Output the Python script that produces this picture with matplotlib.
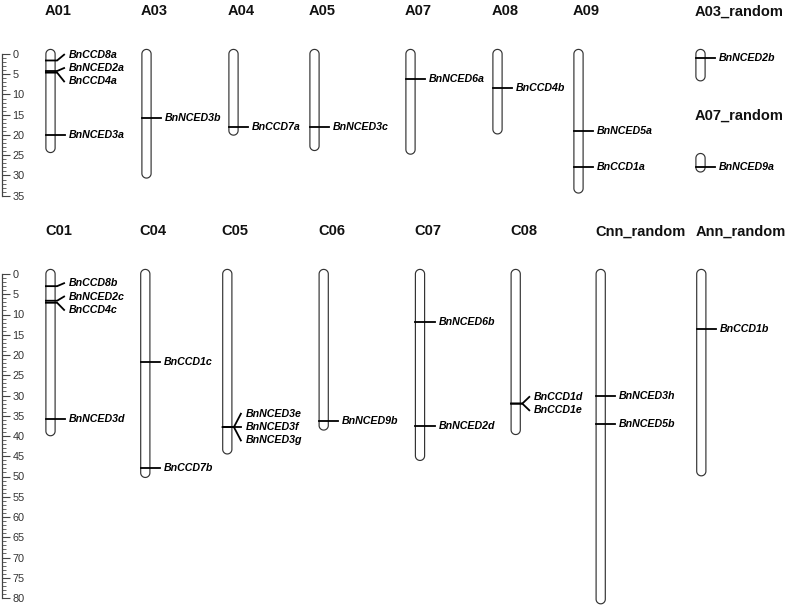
import matplotlib.pyplot as plt
import numpy as np
from matplotlib.ticker import FixedLocator

plt.rcParams['font.family'] = ['Liberation Sans', 'DejaVu Sans']

# ---- top row: A genome ----
top_chroms = ['A01', 'A03', 'A04', 'A05', 'A07', 'A08', 'A09', 'A03_random', 'A07_random']
top_lengths = [23.2, 29.5, 18.9, 22.7, 23.6, 18.6, 33.2, 5.5, 2.3]
top_starts = [0, 0, 0, 0, 0, 0, 0, 0, 25.7]
top_gene_chrom = ['A01', 'A01', 'A01', 'A01', 'A03', 'A04', 'A05', 'A07', 'A08',
                  'A09', 'A09', 'A03_random', 'A07_random']
top_gene_names = ['BnCCD8a', 'BnNCED2a', 'BnCCD4a', 'BnNCED3a', 'BnNCED3b', 'BnCCD7a',
                  'BnNCED3c', 'BnNCED6a', 'BnCCD4b', 'BnNCED5a', 'BnCCD1a', 'BnNCED2b',
                  'BnNCED9a']
top_gene_pos = [1.6, 4.2, 4.6, 20.0, 15.8, 18.1, 18.1, 6.1, 8.4, 19.0, 28.0, 1.1, 2.2]

# ---- bottom row: C genome + unplaced ----
bot_chroms = ['C01', 'C04', 'C05', 'C06', 'C07', 'C08', 'Cnn_random', 'Ann_random']
bot_lengths = [38.8, 49.1, 43.3, 37.4, 44.9, 38.5, 80.3, 48.7]
bot_starts = [0, 0, 0, 0, 0, 0, 0, 0]
bot_gene_chrom = ['C01', 'C01', 'C01', 'C01', 'C04', 'C04', 'C05', 'C05', 'C05', 'C06',
                  'C07', 'C07', 'C08', 'C08', 'Cnn_random', 'Cnn_random', 'Ann_random']
bot_gene_names = ['BnCCD8b', 'BnNCED2c', 'BnCCD4c', 'BnNCED3d', 'BnCCD1c', 'BnCCD7b',
                  'BnNCED3e', 'BnNCED3f', 'BnNCED3g', 'BnNCED9b', 'BnNCED6b', 'BnNCED2d',
                  'BnCCD1d', 'BnCCD1e', 'BnNCED3h', 'BnNCED5b', 'BnCCD1b']
bot_gene_pos = [3.0, 6.6, 7.1, 35.9, 21.7, 47.9, 37.8, 37.8, 37.8, 36.3,
                11.9, 37.6, 32.0, 32.0, 30.2, 37.0, 13.5]

# layout (pixel columns)
top_xpos = [50.5, 146.5, 233.5, 314.5, 410.5, 497.5, 578.5, 700.5, 700.5]
bot_xpos = [50.5, 145.3, 227.3, 323.7, 420.0, 515.7, 600.7, 701.3]

W, H = 789, 605
S = 4.05      # pixels per Mb
R = 4.6       # chromosome half width (px)
SPLIT = 215   # pixel row between panels

fig = plt.figure(figsize=(W / 100, H / 100), dpi=100)


def make_axes(top_px, bot_px, zero_px, ruler_max):
    ax = fig.add_axes([2 / W, 1 - bot_px / H, 1 - 2 / W, (bot_px - top_px) / H])
    ax.set_xlim(2, W)
    ax.set_ylim((bot_px - zero_px) / S, (top_px - zero_px) / S)
    for s in ['top', 'right', 'bottom']:
        ax.spines[s].set_visible(False)
    ax.spines['left'].set_bounds(0, ruler_max)
    ax.spines['left'].set_color('#444444')
    ax.spines['left'].set_linewidth(0.9)
    ax.set_xticks([])
    ax.yaxis.set_major_locator(FixedLocator(np.arange(0, ruler_max + 1, 5)))
    ax.yaxis.set_minor_locator(FixedLocator(np.arange(0, ruler_max + 1, 1)))
    ax.tick_params(axis='y', which='major', direction='in', length=5.5, width=0.8,
                   color='#444444', pad=-7.5, labelsize=7.8, labelcolor='#333333')
    ax.tick_params(axis='y', which='minor', direction='in', length=3.0, width=0.7,
                   color='#666666')
    plt.setp(ax.get_yticklabels(), ha='left')
    return ax


def draw_panel(ax, chroms, lengths, starts, xpos, g_chrom, g_names, g_pos):
    r_mb = R / S
    t = np.linspace(0, np.pi, 30)
    for name, L, st, cx in zip(chroms, lengths, starts, xpos):
        end = st + L
        xs = np.concatenate([cx + R * np.cos(t), cx + R * np.cos(t + np.pi)])
        ys = np.concatenate([st - r_mb * np.sin(t), end - r_mb * np.sin(t + np.pi)])
        ax.fill(xs, ys, facecolor='white', edgecolor='#333333', lw=0.85, zorder=2)
        ax.text(cx - R - 1, st - (R + 38) / S, name, ha='left', va='center',
                fontsize=10.5, fontweight='bold', color='#111111')

        genes = sorted([(p, n) for c, n, p in zip(g_chrom, g_names, g_pos) if c == name])
        groups = []
        for p, n in genes:
            if groups and p - groups[-1][-1][0] <= 4:
                groups[-1].append((p, n))
            else:
                groups.append([(p, n)])
        xl, xr = cx - R, cx + R
        for grp in groups:
            if len(grp) == 1:
                p, n = grp[0]
                p += st
                ax.plot([xl, xr + 10], [p, p], color='black', lw=1.3, zorder=3)
                ax.text(xr + 14, p, n, ha='left', va='center', fontsize=7.7,
                        fontweight='bold', fontstyle='italic')
                continue
            centre = st + np.mean([p for p, _ in grp])
            step = 3.3
            lab = centre + step * (np.arange(len(grp)) - (len(grp) - 1) / 2)
            for (p, n), ly in zip(grp, lab):
                p += st
                ax.plot([xl, xr + 2, xr + 9], [p, p, ly], color='black', lw=1.3,
                        zorder=3, solid_joinstyle='miter')
                ax.text(xr + 14, ly, n, ha='left', va='center', fontsize=7.7,
                        fontweight='bold', fontstyle='italic')


ax_top = make_axes(0, SPLIT, 54, 35)
draw_panel(ax_top, top_chroms, top_lengths, top_starts, top_xpos,
           top_gene_chrom, top_gene_names, top_gene_pos)

ax_bot = make_axes(SPLIT, H, 274, 80)
draw_panel(ax_bot, bot_chroms, bot_lengths, bot_starts, bot_xpos,
           bot_gene_chrom, bot_gene_names, bot_gene_pos)

fig.savefig('out.png', dpi=100)
